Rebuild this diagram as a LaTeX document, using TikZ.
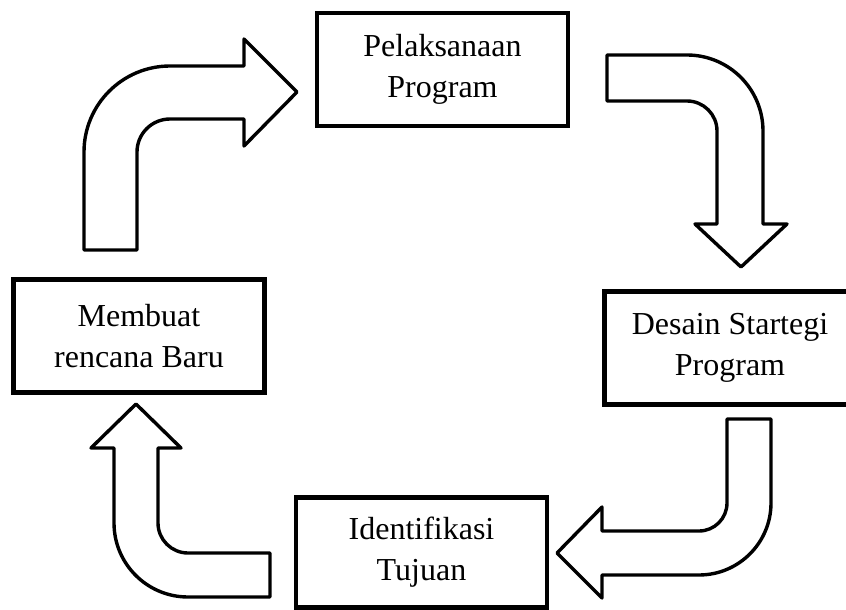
\documentclass[tikz,border=0pt]{standalone}
\usepackage{fontspec}
\setmainfont{Liberation Serif}
\usepackage{tikz}
\usetikzlibrary{positioning}

\tikzset{
    stagebox/.style={draw, line width=2.2pt, rectangle, minimum width=125.5pt,
        minimum height=56.5pt, align=center, font=\fontsize{16}{20.5}\selectfont},
    bentarrow/.style={draw, fill=white, line width=1.7pt, line join=round}
}

\begin{document}
\begin{tikzpicture}[x=0.5pt, y=-0.5pt]
        \clip (0,0) rectangle (846,610);
        % Boxes of the cycle
        \node[stagebox] (pelaksanaan) at (442.5,69.5) {Pelaksanaan\\Program};
        \node[stagebox] (desain) at (730,348) {Desain Startegi\\Program};
        \node[stagebox, minimum height=55pt] (identifikasi) at (421.5,552.5) {Identifikasi\\Tujuan};
        \node[stagebox] (membuat) at (139,336) {Membuat\\rencana Baru};
        % Bent arrows
        \draw[bentarrow] (84,250) -- (84,152) arc (180:270:86) -- (244,66) -- (244,39)
            -- (297,92) -- (244,146) -- (244,119) -- (170,119) arc (270:180:33)
            -- (137,250) -- cycle;
        \draw[bentarrow] (607,55) -- (687,55) arc (270:360:76) -- (763,224) -- (787,224)
            -- (741,267) -- (695,224) -- (717,224) -- (717,131) arc (0:-90:30)
            -- (607,101) -- cycle;
        \draw[bentarrow] (727,419) -- (771,419) -- (771,503) arc (0:90:72) -- (602,575)
            -- (602,598) -- (557,553) -- (602,507) -- (602,531) -- (699,531)
            arc (90:0:28) -- cycle;
        \draw[bentarrow] (270,553) -- (270,597) -- (188,597) arc (90:180:74) -- (114,448)
            -- (91,448) -- (136,404) -- (181,448) -- (158,448) -- (158,523)
            arc (180:90:30) -- cycle;
    \end{tikzpicture}
\end{document}
